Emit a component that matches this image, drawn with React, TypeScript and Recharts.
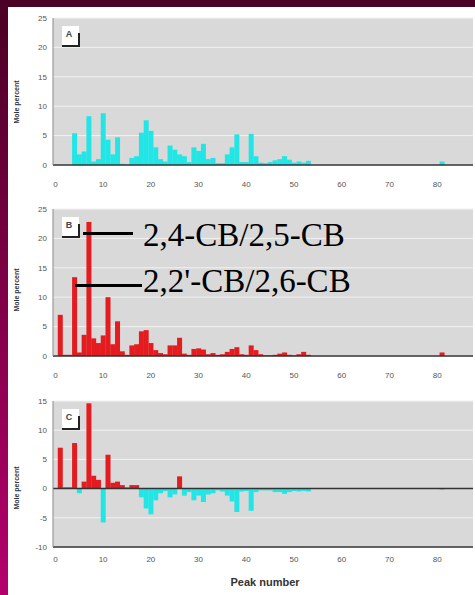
import React from "react";
import { BarChart, Bar, XAxis, YAxis, CartesianGrid, Cell, ReferenceLine, Label } from "recharts";

// peak numbers 1..85
const peaks = [
  1, 2, 3, 4, 5, 6, 7, 8, 9, 10, 11, 12, 13, 14, 15, 16, 17, 18, 19, 20,
  21, 22, 23, 24, 25, 26, 27, 28, 29, 30, 31, 32, 33, 34, 35, 36, 37, 38, 39, 40,
  41, 42, 43, 44, 45, 46, 47, 48, 49, 50, 51, 52, 53, 54, 55, 56, 57, 58, 59, 60,
  61, 62, 63, 64, 65, 66, 67, 68, 69, 70, 71, 72, 73, 74, 75, 76, 77, 78, 79, 80,
  81, 82, 83, 84, 85,
];

// panel A (mole percent)
const moleA = [
  0, 0, 0, 5.4, 1.8, 2.3, 8.3, 0.6, 1.0, 8.8, 4.3, 1.8, 4.7, 0.2, 0.1, 1.2, 1.5, 5.5, 7.6, 5.8,
  3.0, 1.0, 0.6, 3.3, 2.6, 1.8, 1.5, 0.5, 3.0, 2.4, 3.6, 1.0, 1.2, 0.3, 0.3, 1.8, 3.0, 5.2, 0.5, 0.5,
  5.3, 1.5, 0.4, 0.3, 0.5, 0.8, 1.0, 1.5, 0.9, 0.4, 0.6, 0.4, 0.7, 0, 0, 0, 0, 0, 0, 0,
  0, 0, 0, 0, 0, 0, 0, 0, 0, 0, 0, 0, 0, 0, 0, 0, 0, 0, 0, 0,
  0.6, 0, 0, 0, 0,
];

// panel B
const moleB = [
  7.0, 0.2, 0.2, 13.4, 0.6, 3.6, 22.8, 3.0, 2.2, 3.5, 10.0, 2.0, 5.9, 0.8, 0.2, 1.8, 2.0, 4.2, 4.4, 2.2,
  1.0, 0.5, 0.3, 1.8, 1.8, 3.1, 0.4, 0.2, 1.2, 1.3, 1.1, 0.3, 0.5, 0.2, 0.3, 0.7, 1.2, 1.5, 0.3, 0.2,
  1.8, 1.0, 0.3, 0.1, 0.1, 0.2, 0.4, 0.6, 0.2, 0.1, 0.3, 0.7, 0.2, 0, 0, 0, 0, 0, 0, 0,
  0, 0, 0, 0, 0, 0, 0, 0, 0, 0, 0, 0, 0, 0, 0, 0, 0, 0, 0, 0,
  0.6, 0, 0, 0, 0,
];

// panel C
const moleC = [
  7.0, 0.2, 0.2, 7.8, -0.8, 1.2, 14.6, 2.2, 1.5, -5.8, 5.8, 1.0, 1.2, 0.6, 0.2, 0.6, 0.6, -1.5, -3.4, -4.4,
  -2.0, -0.8, -0.4, -1.5, -1.0, 2.1, -1.2, -0.6, -2.0, -1.2, -2.3, -1.0, -0.8, -0.3, -0.5, -1.2, -2.2, -4.0, -0.5, -0.4,
  -3.8, -0.6, -0.3, -0.3, -0.3, -0.6, -0.6, -0.9, -0.6, -0.4, -0.5, -0.4, -0.5, 0, 0, 0, 0, 0, 0, 0,
  0, 0, 0, 0, 0, 0, 0, 0, 0, 0, 0, 0, 0, 0, 0, 0, 0, 0, 0, 0,
  -0.2, 0, 0, 0, 0,
];

const xTicks = [0, 10, 20, 30, 40, 50, 60, 70, 80];
const yTicksAB = [0, 5, 10, 15, 20, 25];
const yTicksC = [-10, -5, 0, 5, 10, 15];

const RED = "#e41b1f";
const CYAN = "#22e6e6";

const rows = peaks.map((p, i) => ({ peak: p, a: moleA[i], b: moleB[i], c: moleC[i] }));

const tickStyle = { fontSize: 8, fill: "#555", fontFamily: "Liberation Sans, Arial, sans-serif" };

// bars in the original touch each other, so draw each one 5px wide round its centre
function WideBar(props: any) {
  const { x, y, width, height, fill } = props;
  if (!height) return null;
  const cx = x + width / 2;
  const top = Math.min(y, y + height);
  return <rect x={cx - 2.5} y={top} width={5} height={Math.abs(height)} fill={fill} />;
}

type PanelProps = {
  top: number;
  height: number;
  dataKey: "a" | "b" | "c";
  yDomain: [number, number];
  yTicks: number[];
  tickMargin: number;
  labelY: number;
  color: string;
  signed?: boolean;
};

function Panel({ top, height, dataKey, yDomain, yTicks, tickMargin, labelY, color, signed }: PanelProps) {
  return (
    <div style={{ position: "absolute", left: 0, top, width: 475, height }}>
      <BarChart
        width={475}
        height={height}
        data={rows}
        barCategoryGap={0}
        barGap={0}
        margin={{ top: 18, right: 2, bottom: 5, left: 23 }}
      >
        <CartesianGrid vertical={false} stroke="#f2f2f2" fill="#d9d9d9" />
        <XAxis
          dataKey="peak"
          type="number"
          domain={[-0.5, 87.5]}
          ticks={xTicks}
          interval={0}
          tickLine={false}
          tickSize={0}
          tickMargin={tickMargin}
          height={30}
          axisLine={{ stroke: "#333", strokeWidth: 1.5 }}
          tick={tickStyle}
        />
        <YAxis
          type="number"
          domain={yDomain}
          ticks={yTicks}
          interval={0}
          width={30}
          tickLine={false}
          tickSize={3}
          tickMargin={3}
          axisLine={{ stroke: "#8a8a8a" }}
          tick={tickStyle}
        >
          <Label
            content={() => (
              <text
                x={17}
                y={labelY}
                transform={`rotate(-90 17 ${labelY})`}
                textAnchor="middle"
                dominantBaseline="middle"
                fontSize={7}
                fontWeight="bold"
                fill="#333"
                fontFamily="Liberation Sans, Arial, sans-serif"
              >
                Mole percent
              </text>
            )}
          />
        </YAxis>
        <Bar dataKey={dataKey} fill={color} shape={WideBar} isAnimationActive={false}>
          {signed && rows.map((r) => <Cell key={r.peak} fill={r.c >= 0 ? RED : CYAN} />)}
        </Bar>
        {signed && <ReferenceLine y={0} stroke="#333" strokeWidth={1.5} />}
      </BarChart>
    </div>
  );
}

function Tag({ left, top, letter }: { left: number; top: number; letter: string }) {
  return (
    <div style={{ position: "absolute", left, top, width: 17, height: 21, background: "#fff" }}>
      <div
        style={{
          position: "absolute",
          left: 0,
          top: 3,
          width: 14,
          textAlign: "center",
          fontSize: 9,
          fontWeight: "bold",
          color: "#444",
          fontFamily: "Liberation Sans, Arial, sans-serif",
          lineHeight: "10px",
        }}
      >
        {letter}
      </div>
      <div style={{ position: "absolute", left: 0, bottom: 0, width: 18, height: 2, background: "#222" }} />
      <div style={{ position: "absolute", right: -1, bottom: 0, width: 2, height: 14, background: "#222" }} />
    </div>
  );
}

const annoText = {
  position: "absolute" as const,
  fontFamily: "Liberation Serif, Times New Roman, serif",
  fontSize: 33,
  lineHeight: "33px",
  color: "#000",
  whiteSpace: "nowrap" as const,
};

export default function App() {
  return (
    <div
      style={{
        position: "absolute",
        left: 0,
        top: 0,
        width: 475,
        height: 595,
        overflow: "hidden",
        background: "linear-gradient(to bottom, #4a0024, #b5006c)",
      }}
    >
      <div style={{ position: "absolute", left: 8, top: 7, width: 467, height: 588, background: "#fff" }} />

      <Panel top={0} height={200} dataKey="a" yDomain={[0, 25]} yTicks={yTicksAB} tickMargin={16} labelY={102} color={CYAN} />
      <Panel top={191} height={200} dataKey="b" yDomain={[0, 25]} yTicks={yTicksAB} tickMargin={16} labelY={99} color={RED} />
      <Panel top={383} height={199} dataKey="c" yDomain={[-10, 15]} yTicks={yTicksC} tickMargin={9} labelY={105} color={RED} signed />

      <Tag left={62} top={26} letter="A" />
      <Tag left={62} top={217} letter="B" />
      <Tag left={62} top={409} letter="C" />

      <div style={{ position: "absolute", left: 83, top: 232, width: 50, height: 2.5, background: "#000" }} />
      <div style={{ ...annoText, left: 143, top: 219 }}>2,4-CB/2,5-CB</div>
      <div style={{ position: "absolute", left: 75, top: 284, width: 67, height: 2.5, background: "#000" }} />
      <div style={{ ...annoText, left: 143, top: 265 }}>2,2'-CB/2,6-CB</div>

      <div
        style={{
          position: "absolute",
          left: 200,
          width: 130,
          top: 576,
          textAlign: "center",
          fontSize: 11,
          fontWeight: "bold",
          color: "#333",
          fontFamily: "Liberation Sans, Arial, sans-serif",
        }}
      >
        Peak number
      </div>
    </div>
  );
}
